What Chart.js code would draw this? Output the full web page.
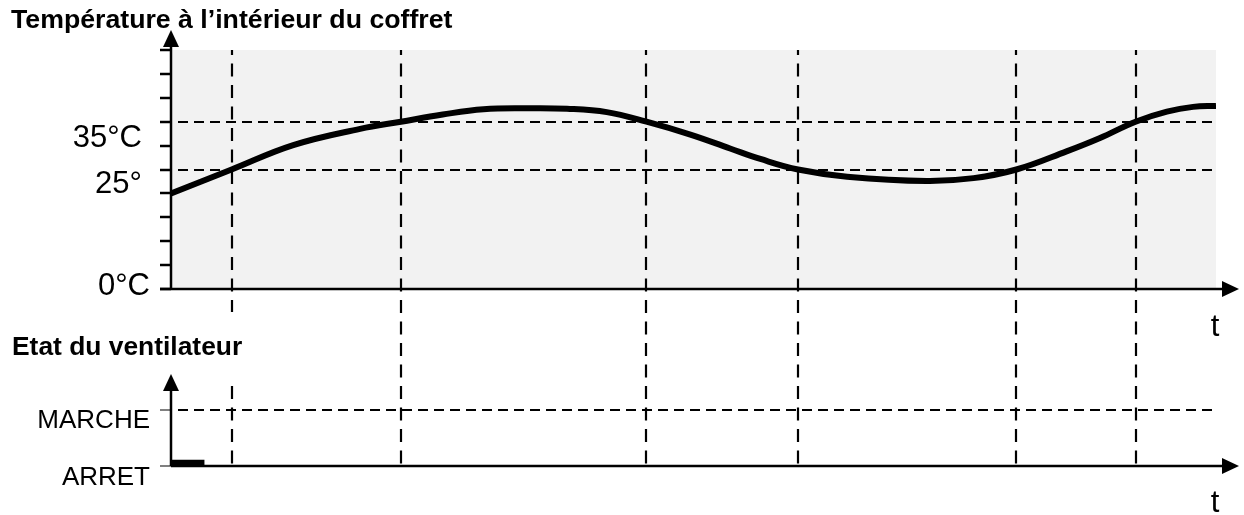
<!DOCTYPE html>
<html>
<head>
<meta charset="utf-8">
<script src="https://cdn.jsdelivr.net/npm/chart.js@4"></script>
<style>
  html, body { margin: 0; padding: 0; background: #fff; }
  #wrap { position: relative; width: 1244px; height: 515px; overflow: hidden; }
  #tempChart { position: absolute; left: 0; top: 0; }
  #fanChart { position: absolute; left: 0; top: 320px; }
</style>
</head>
<body>
<div id="wrap">
  <canvas id="tempChart" width="1244" height="340"></canvas>
  <canvas id="fanChart" width="1244" height="195"></canvas>
</div>
<script>
// --- data ---
const timeValues = [0, 5.8, 11.7, 18.1, 22.0, 26.0, 29.9, 34.1, 37.9, 41.7, 45.5, 49.7, 53.5,
  56.4, 60.0, 64.7, 72.3, 76.8, 80.9, 85.7, 88.9, 92.3, 95.3, 97.8, 100];
const temperatures = [20.0, 25.0, 30.1, 33.5, 35.0, 36.5, 37.6, 37.8, 37.7, 37.0, 35.0, 32.3, 29.4,
  27.2, 25.0, 23.5, 22.6, 23.2, 25.0, 28.8, 31.6, 35.0, 37.1, 38.1, 38.3];
const switchTimes = [5.8, 22.0, 45.5, 60.0, 80.9, 92.3];
const thresholdTemps = [25, 35];
const tempTickValues = [0, 5, 10, 15, 20, 25, 30, 35, 40, 45, 50];
const tempLabelValues = [35, 25, 0];
const tempLabelTexts = ['35°C', '25°', '0°C'];
const fanLevels = [0, 1];
const fanLevelNames = ['ARRET', 'MARCHE'];
const fanTimes = [0, 3.2];
const fanStates = [0, 0];

// --- layout (page pixels) ---
const FONT = '"Liberation Sans", Arial, Helvetica, sans-serif';
const DASH_V = [13, 8.5];
const DASH_H = [10, 6];
const DASH_ORIGIN = 42;      // page y where a vertical dash starts
const SPLIT_Y = 320;         // lower canvas starts here
const FAN_TOP = 320;
const labelGap = { right: 250, top: 312, bottom: 382 };
const tempLabelPos = { 35: { right: 142, dy: 25 }, 25: { right: 142, dy: 23.5 }, 0: { right: 150, dy: 6 } };
const fanLabelPos = { 0: { right: 150, dy: 22 }, 1: { right: 150, dy: 18 } };

function vSegment(ctx, x, fromPage, toPage, canvasTop) {
  if (toPage <= fromPage) return;
  ctx.lineDashOffset = fromPage - DASH_ORIGIN;
  ctx.beginPath();
  ctx.moveTo(x, fromPage - canvasTop);
  ctx.lineTo(x, toPage - canvasTop);
  ctx.stroke();
}

function drawSwitchLines(chart, canvasTop, fromPage, toPage) {
  const { ctx, scales } = chart;
  ctx.save();
  ctx.strokeStyle = '#000';
  ctx.lineWidth = 2.2;
  ctx.setLineDash(DASH_V);
  switchTimes.forEach(t => {
    const x = Math.round(scales.x.getPixelForValue(t));
    if (x < labelGap.right) {
      vSegment(ctx, x, fromPage, Math.min(toPage, labelGap.top), canvasTop);
      vSegment(ctx, x, Math.max(fromPage, labelGap.bottom), toPage, canvasTop);
    } else {
      vSegment(ctx, x, fromPage, toPage, canvasTop);
    }
  });
  ctx.restore();
}

function hDashed(ctx, y, x0, x1) {
  ctx.save();
  ctx.strokeStyle = '#000';
  ctx.lineWidth = 2.2;
  ctx.setLineDash(DASH_H);
  ctx.lineDashOffset = 9;
  ctx.beginPath();
  ctx.moveTo(x0, y);
  ctx.lineTo(x1, y);
  ctx.stroke();
  ctx.restore();
}

function line(ctx, x0, y0, x1, y1) {
  ctx.beginPath();
  ctx.moveTo(x0, y0);
  ctx.lineTo(x1, y1);
  ctx.stroke();
}

function arrowUp(ctx, x, tipY) {
  ctx.beginPath();
  ctx.moveTo(x, tipY);
  ctx.lineTo(x - 8, tipY + 17);
  ctx.lineTo(x + 8, tipY + 17);
  ctx.closePath();
  ctx.fill();
}

function arrowRight(ctx, tipX, y) {
  ctx.beginPath();
  ctx.moveTo(tipX, y);
  ctx.lineTo(tipX - 17, y - 8);
  ctx.lineTo(tipX - 17, y + 8);
  ctx.closePath();
  ctx.fill();
}

// --- temperature chart ---
const tempDecor = {
  id: 'tempDecor',
  beforeDraw(chart) {
    const { ctx, chartArea: a } = chart;
    ctx.save();
    ctx.fillStyle = '#f2f2f2';
    ctx.fillRect(a.left, a.top, a.right - a.left, a.bottom - a.top);
    ctx.restore();
  },
  beforeDatasetsDraw(chart) {
    const { ctx, chartArea: a, scales } = chart;
    thresholdTemps.forEach(v => {
      hDashed(ctx, Math.round(scales.y.getPixelForValue(v)), a.left, a.right);
    });
    drawSwitchLines(chart, 0, a.top, SPLIT_Y);
  },
  afterDraw(chart) {
    const { ctx, chartArea: a, scales } = chart;
    ctx.save();
    ctx.strokeStyle = '#000';
    ctx.fillStyle = '#000';
    ctx.lineWidth = 2.5;
    // axes
    line(ctx, a.left, a.bottom, a.left, 46);
    arrowUp(ctx, a.left, 30);
    line(ctx, a.left - 11, a.bottom, 1224, a.bottom);
    arrowRight(ctx, 1239, a.bottom);
    tempTickValues.forEach(v => {
      const y = Math.round(scales.y.getPixelForValue(v));
      line(ctx, a.left - 11, y, a.left, y);
    });
    // labels
    ctx.font = '31px ' + FONT;
    ctx.textAlign = 'right';
    ctx.textBaseline = 'alphabetic';
    tempLabelValues.forEach((v, i) => {
      const p = tempLabelPos[v];
      ctx.fillText(tempLabelTexts[i], p.right, scales.y.getPixelForValue(v) + p.dy);
    });
    ctx.textAlign = 'center';
    ctx.font = '31px ' + FONT;
    ctx.fillText('t', 1215, 336);
    ctx.textAlign = 'left';
    ctx.font = 'bold 26.7px ' + FONT;
    ctx.fillText('Température à l’intérieur du coffret', 11, 28);
    ctx.restore();
  }
};

new Chart(document.getElementById('tempChart'), {
  type: 'line',
  data: {
    datasets: [{
      data: timeValues.map((t, i) => ({ x: t, y: temperatures[i] })),
      borderColor: '#000',
      borderWidth: 6,
      pointRadius: 0,
      tension: 0.4,
      borderCapStyle: 'butt',
      borderJoinStyle: 'round'
    }]
  },
  options: {
    responsive: false,
    animation: false,
    layout: { padding: { left: 171, right: 28, top: 50, bottom: 51 } },
    plugins: { legend: { display: false }, tooltip: { enabled: false } },
    scales: {
      x: { type: 'linear', min: 0, max: 100, display: false },
      y: { type: 'linear', min: 0, max: 50, display: false }
    }
  },
  plugins: [tempDecor]
});

// --- fan state chart ---
const fanDecor = {
  id: 'fanDecor',
  beforeDatasetsDraw(chart) {
    const { ctx, chartArea: a, scales } = chart;
    hDashed(ctx, Math.round(scales.y.getPixelForValue(1)), a.left, a.right);
    drawSwitchLines(chart, FAN_TOP, SPLIT_Y, a.bottom + FAN_TOP);
  },
  afterDraw(chart) {
    const { ctx, chartArea: a, scales } = chart;
    ctx.save();
    ctx.fillStyle = '#000';
    // level ticks
    ctx.strokeStyle = '#808080';
    ctx.lineWidth = 2;
    const yOn = Math.round(scales.y.getPixelForValue(1));
    line(ctx, a.left - 11, yOn, a.left, yOn);
    line(ctx, a.left - 11, a.bottom, a.left, a.bottom);
    // axes
    ctx.strokeStyle = '#000';
    ctx.lineWidth = 2.5;
    line(ctx, a.left, a.bottom, a.left, 388 - FAN_TOP);
    arrowUp(ctx, a.left, 374 - FAN_TOP);
    line(ctx, a.left, a.bottom, 1224, a.bottom);
    arrowRight(ctx, 1239, a.bottom);
    // labels
    ctx.font = '26px ' + FONT;
    ctx.textAlign = 'right';
    ctx.textBaseline = 'alphabetic';
    fanLevels.forEach((v, i) => {
      const p = fanLabelPos[v];
      ctx.fillText(fanLevelNames[i], p.right, scales.y.getPixelForValue(v) + p.dy);
    });
    ctx.textAlign = 'center';
    ctx.font = '31px ' + FONT;
    ctx.fillText('t', 1215, 512 - FAN_TOP);
    ctx.textAlign = 'left';
    ctx.font = 'bold 26.4px ' + FONT;
    ctx.fillText('Etat du ventilateur', 12, 355 - FAN_TOP);
    ctx.restore();
  }
};

new Chart(document.getElementById('fanChart'), {
  type: 'line',
  data: {
    datasets: [{
      data: fanTimes.map((t, i) => ({ x: t, y: fanStates[i] })),
      borderColor: '#000',
      borderWidth: 6,
      pointRadius: 0,
      borderCapStyle: 'butt'
    }]
  },
  options: {
    responsive: false,
    animation: false,
    layout: { padding: { left: 171, right: 28, top: 90, bottom: 49 } },
    plugins: { legend: { display: false }, tooltip: { enabled: false } },
    scales: {
      x: { type: 'linear', min: 0, max: 100, display: false },
      y: { type: 'linear', min: -0.06, max: 1, display: false }
    }
  },
  plugins: [fanDecor]
});
</script>
</body>
</html>
